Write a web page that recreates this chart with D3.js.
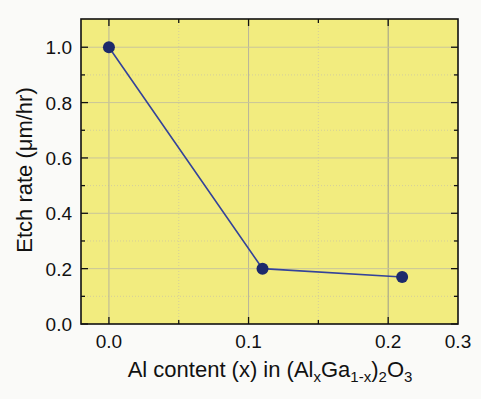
<!DOCTYPE html>
<html>
<head>
<meta charset="utf-8">
<script src="https://cdn.jsdelivr.net/npm/d3@7"></script>
<style>
  body { margin: 0; background: #fafaf8; }
  text { font-family: "Liberation Sans", Arial, sans-serif; fill: #111; }
</style>
</head>
<body>
<div id="chart"></div>
<script>
// data
var alContent = [0.0, 0.11, 0.21];
var etchRate = [1.0, 0.20, 0.17];
var xTickValues = [0, 0.1, 0.2, 0.25];
var xTickLabels = ["0.0", "0.1", "0.2", "0.3"];
var yTickValues = [0, 0.2, 0.4, 0.6, 0.8, 1.0];
var xMinor = [0.05, 0.15];
var yMinor = [0.1, 0.3, 0.5, 0.7, 0.9];

var W = 481, H = 399;
var margin = {left: 81, right: 23, top: 19, bottom: 75};
var pw = W - margin.left - margin.right;
var ph = H - margin.top - margin.bottom;

var svg = d3.select("#chart").append("svg")
  .attr("width", W).attr("height", H);

var x = d3.scaleLinear().domain([-0.02, 0.25]).range([0, pw]);
var y = d3.scaleLinear().domain([0, 1.102]).range([ph, 0]);

var g = svg.append("g").attr("transform", "translate(" + margin.left + "," + margin.top + ")");

// plot background
g.append("rect").attr("width", pw).attr("height", ph).attr("fill", "#f2ec7f");

// minor grid (dotted)
g.selectAll(".gminx").data(xMinor).enter().append("line")
  .attr("x1", function(d) { return x(d); }).attr("x2", function(d) { return x(d); })
  .attr("y1", 0).attr("y2", ph)
  .attr("stroke", "#d4cf9a").attr("stroke-width", 1).attr("stroke-dasharray", "1,2");
g.selectAll(".gminy").data(yMinor).enter().append("line")
  .attr("y1", function(d) { return y(d); }).attr("y2", function(d) { return y(d); })
  .attr("x1", 0).attr("x2", pw)
  .attr("stroke", "#d4cf9a").attr("stroke-width", 1).attr("stroke-dasharray", "1,2");

// major grid
g.selectAll(".gmaxx").data([0, 0.1, 0.2]).enter().append("line")
  .attr("x1", function(d) { return x(d); }).attr("x2", function(d) { return x(d); })
  .attr("y1", 0).attr("y2", ph)
  .attr("stroke", function(d) { return d == 0.2 ? "#9c9c8c" : "#b8b59a"; }).attr("stroke-width", 1);
g.selectAll(".gmaxy").data(yTickValues.slice(1)).enter().append("line")
  .attr("y1", function(d) { return y(d); }).attr("y2", function(d) { return y(d); })
  .attr("x1", 0).attr("x2", pw)
  .attr("stroke", "#c9c59a").attr("stroke-width", 1);

// ticks, pointing inward on all four sides
function ticks(vals, len, side) {
  g.selectAll(null).data(vals).enter().append("line")
    .attr("stroke", "#111").attr("stroke-width", 1.3)
    .each(function(d) {
      var s = d3.select(this);
      if (side == "bottom") s.attr("x1", x(d)).attr("x2", x(d)).attr("y1", ph).attr("y2", ph - len);
      if (side == "top") s.attr("x1", x(d)).attr("x2", x(d)).attr("y1", 0).attr("y2", len);
      if (side == "left") s.attr("y1", y(d)).attr("y2", y(d)).attr("x1", 0).attr("x2", len);
      if (side == "right") s.attr("y1", y(d)).attr("y2", y(d)).attr("x1", pw).attr("x2", pw - len);
    });
}
ticks([0, 0.1, 0.2], 7, "bottom"); ticks(xMinor, 4, "bottom");
ticks([0, 0.1, 0.2], 7, "top"); ticks(xMinor, 4, "top");
ticks(yTickValues, 7, "left"); ticks(yMinor, 4, "left");
ticks(yTickValues, 7, "right"); ticks(yMinor, 4, "right");

// frame
g.append("rect").attr("width", pw).attr("height", ph)
  .attr("fill", "none").attr("stroke", "#111").attr("stroke-width", 1.6);

// tick labels
g.selectAll(".xl").data(xTickValues).enter().append("text")
  .attr("x", function(d) { return x(d); }).attr("y", ph + 24)
  .attr("text-anchor", "middle").attr("font-size", 19)
  .text(function(d, i) { return xTickLabels[i]; });
g.selectAll(".yl").data(yTickValues).enter().append("text")
  .attr("x", -9).attr("y", function(d) { return y(d) + 7; })
  .attr("text-anchor", "end").attr("font-size", 19)
  .text(function(d) { return d3.format(".1f")(d); });

// series
var pts = alContent.map(function(a, i) { return [a, etchRate[i]]; });
g.append("path").datum(pts)
  .attr("fill", "none").attr("stroke", "#34439a").attr("stroke-width", 1.6)
  .attr("d", d3.line().x(function(d) { return x(d[0]); }).y(function(d) { return y(d[1]); }));
g.selectAll(".pt").data(pts).enter().append("circle")
  .attr("cx", function(d) { return x(d[0]); }).attr("cy", function(d) { return y(d[1]); })
  .attr("r", 6).attr("fill", "#1d2a6b");

// axis titles
var xt = svg.append("text").attr("x", 270).attr("y", 377)
  .attr("text-anchor", "middle").attr("font-size", 22);
xt.append("tspan").text("Al content (x) in (Al");
xt.append("tspan").attr("font-size", 15).attr("dy", 5).text("x");
xt.append("tspan").attr("dy", -5).text("Ga");
xt.append("tspan").attr("font-size", 15).attr("dy", 5).text("1-x");
xt.append("tspan").attr("dy", -5).text(")");
xt.append("tspan").attr("font-size", 15).attr("dy", 5).text("2");
xt.append("tspan").attr("dy", -5).text("O");
xt.append("tspan").attr("font-size", 15).attr("dy", 5).text("3");

svg.append("text").attr("transform", "translate(32,170) rotate(-90)")
  .attr("text-anchor", "middle").attr("font-size", 22)
  .text("Etch rate (\u03bcm/hr)");
</script>
</body>
</html>
